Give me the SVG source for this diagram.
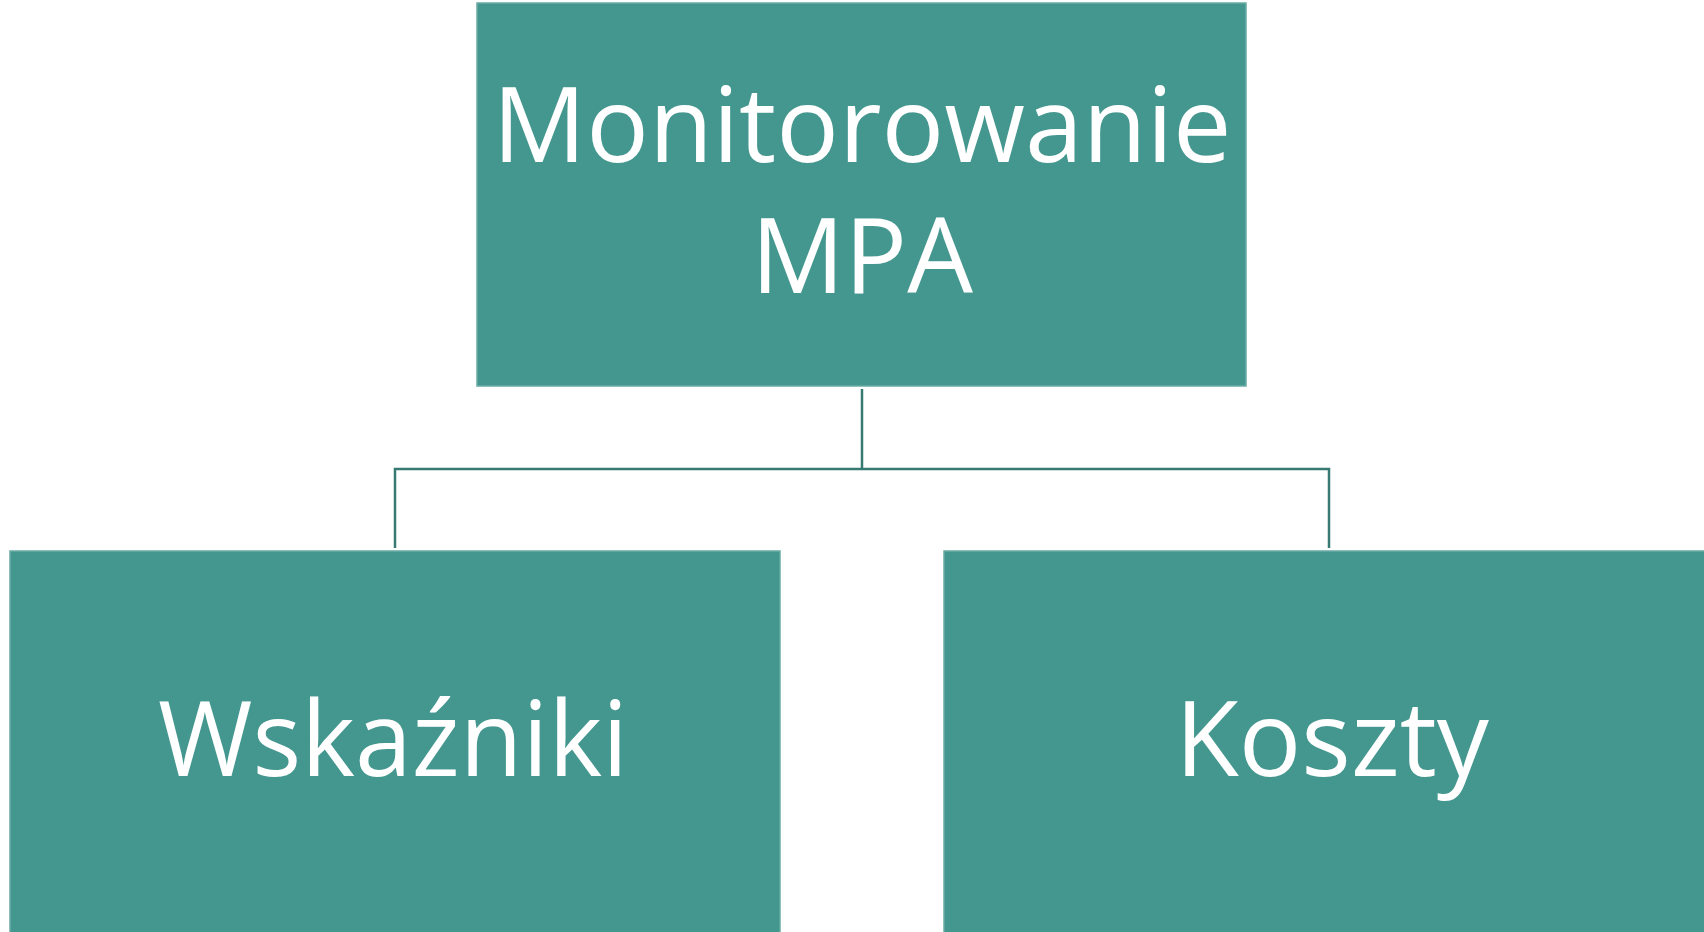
<svg xmlns="http://www.w3.org/2000/svg" width="1704" height="932" viewBox="0 0 1704 932">
<style>
.box{fill:#44978f;stroke:#6aaca5;stroke-width:1.5}
.lbl{font-family:"Open Sans","Liberation Sans",sans-serif;font-size:104px;fill:#ffffff;text-anchor:middle}
.conn{fill:none;stroke:#367a73;stroke-width:2.5}
</style>
<rect width="1704" height="932" fill="#ffffff"/>
<g id="connectors">
<path class="conn" d="M862,389 V469"/>
<path class="conn" d="M395,548 V469 H1329 V548"/>
</g>
<g id="node-monitorowanie">
<rect class="box" x="477" y="3" width="769" height="383"/>
<text class="lbl" x="862" y="162" textLength="739" lengthAdjust="spacingAndGlyphs">Monitorowanie</text>
<text class="lbl" x="862" y="293">MPA</text>
</g>
<g id="node-wskazniki">
<rect class="box" x="10" y="551" width="770" height="390"/>
<text class="lbl" x="393" y="776" textLength="470" lengthAdjust="spacingAndGlyphs">Wskaźniki</text>
</g>
<g id="node-koszty">
<rect class="box" x="944" y="551" width="770" height="390"/>
<text class="lbl" x="1332" y="776">Koszty</text>
</g>
</svg>
